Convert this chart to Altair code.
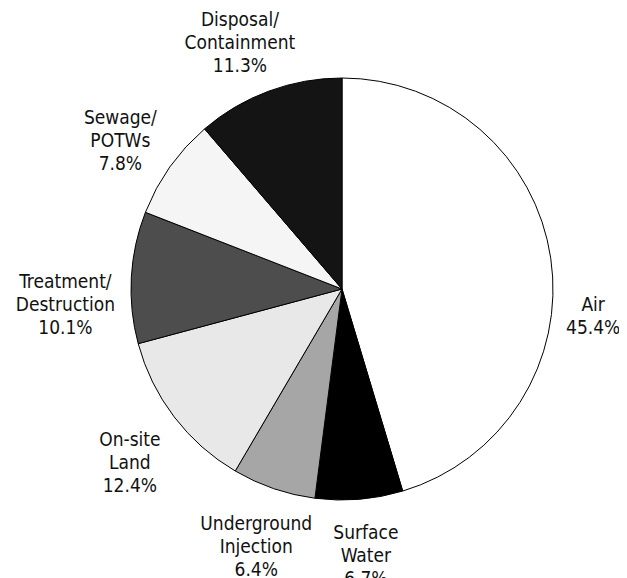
import math
import altair as alt
import pandas as pd

# Data (clockwise from 12 o'clock)
categories = ["Air", "Surface Water", "Underground Injection", "On-site Land",
              "Treatment/Destruction", "Sewage/POTWs", "Disposal/Containment"]
label_names = ["Air", "Surface\nWater", "Underground\nInjection", "On-site\nLand",
               "Treatment/\nDestruction", "Sewage/\nPOTWs", "Disposal/\nContainment"]
shares = [45.4, 6.7, 6.4, 12.4, 10.1, 7.8, 11.3]
fills = ["#ffffff", "#000000", "#a6a6a6", "#e8e8e8", "#4d4d4d", "#f5f5f5", "#141414"]

df = pd.DataFrame({
    "idx": list(range(len(categories))),
    "cat": categories,
    "value": shares,
    "label": [f"{n}\n{v:.1f}%" for n, v in zip(label_names, shares)],
})
df["end"] = df["value"].cumsum()
df["start"] = df["end"] - df["value"]
df["mid"] = df["end"] - df["value"] / 2
total = float(df["value"].sum())

theta_scale = alt.Scale(domain=[0, total], range=[0, 2 * math.pi])
CX, CY = 334, 281
FONT = "DejaVu Sans Condensed, Liberation Sans Narrow, sans-serif"
LH = 23

base = alt.Chart(df)

pie = base.mark_arc(outerRadius=211, stroke="#000000", strokeWidth=1).encode(
    theta=alt.Theta("start:Q", scale=theta_scale),
    theta2="end:Q",
    color=alt.Color("cat:N", scale=alt.Scale(domain=categories, range=fills), legend=None),
    x=alt.value(CX),
    y=alt.value(CY),
)

# label placement tweaks (pixels) per slice, for the block centre
offsets = {
    "Air": (-14, 66),
    "Surface Water": (2, 0),
    "Underground Injection": (1, 4),
    "On-site Land": (1, 12),
    "Treatment/Destruction": (-9, 31),
    "Sewage/POTWs": (-3, 7),
    "Disposal/Containment": (-9, 5),
}

label_layers = []
for c, lab in zip(categories, df["label"]):
    dx, dy = offsets[c]
    nlines = lab.count("\n") + 1
    dy = dy - (nlines - 1) * LH / 2
    label_layers.append(
        base.transform_filter(alt.datum.cat == c).mark_text(
            radius=268, dx=dx, dy=dy, font=FONT, fontSize=19, lineHeight=LH,
            lineBreak="\n", align="center", baseline="middle", color="#111111",
        ).encode(
            theta=alt.Theta("mid:Q", scale=theta_scale),
            text="label:N",
            x=alt.value(CX),
            y=alt.value(CY),
        )
    )

chart = alt.layer(pie, *label_layers).properties(
    width=611, height=575, padding=0, autosize="none", background="white"
).configure_view(stroke=None)

chart.save("out.html", embed_options={"renderer": "svg", "actions": False})
